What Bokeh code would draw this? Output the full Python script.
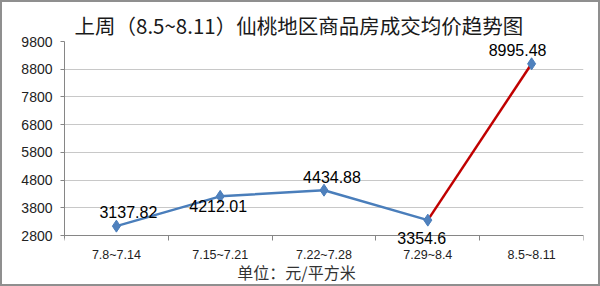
from bokeh.plotting import figure
from bokeh.models import (ColumnDataSource, FixedTicker, LabelSet, Label, Title, Range1d)
from bokeh.core.properties import value
from bokeh.embed import file_html
from bokeh.resources import INLINE

title_text = "上周（8.5~8.11）仙桃地区商品房成交均价趋势图"
unit_text = "单位：元/平方米"
categories = ["7.8~7.14", "7.15~7.21", "7.22~7.28", "7.29~8.4", "8.5~8.11"]
prices = [3137.82, 4212.01, 4434.88, 3354.6, 8995.48]
price_labels = ["3137.82", "4212.01", "4434.88", "3354.6", "8995.48"]
y_ticks = [2800, 3800, 4800, 5800, 6800, 7800, 8800, 9800]

# label offsets (styling, screen px)
label_dx = [12, -2, 8, -6, -14]
label_dy = [14, -10, 13, -18, 14]

xs = [i + 0.5 for i in range(len(categories))]

FONT = "Noto Sans CJK SC"
LATIN = "Liberation Sans"

# frame: top at 9800, extended below 2800 so that texts under the axis are not clipped
px_per_unit = 194.0 / (y_ticks[-1] - y_ticks[0])
extra_px = 51.0
y_start = y_ticks[0] - extra_px / px_per_unit

p = figure(width=600, height=286, output_backend="svg", toolbar_location=None,
           x_range=Range1d(0, len(categories)), y_range=Range1d(y_start, y_ticks[-1]),
           min_border_left=64, min_border_right=17, min_border_top=41, min_border_bottom=0)
p.styles = {"box-shadow": "inset 0 0 0 2px #8f8f8f", "background": "white"}
p.outline_line_color = None
p.background_fill_color = None
p.border_fill_color = None

t = Title(text=title_text, text_font=FONT, text_font_size="20.5px", text_font_style="normal",
          text_color="#1a1a1a", align="left", offset=10, standoff=3)
p.add_layout(t, "above")

# y axis
p.yaxis.ticker = FixedTicker(ticks=y_ticks)
p.yaxis.bounds = (y_ticks[0] - 120, y_ticks[-1])
p.yaxis.axis_line_color = "#868686"
p.yaxis.major_tick_line_color = "#868686"
p.yaxis.major_tick_out = 4
p.yaxis.major_tick_in = 0
p.yaxis.minor_tick_line_color = None
p.yaxis.major_label_text_font = LATIN
p.yaxis.major_label_text_font_size = "14px"
p.yaxis.major_label_text_color = "#222222"
p.yaxis.major_label_standoff = 8

# x axis, drawn at 2800
p.xaxis.fixed_location = y_ticks[0]
p.xaxis.ticker = FixedTicker(ticks=xs, minor_ticks=list(range(len(categories) + 1)))
p.xaxis.major_label_overrides = {x: c for x, c in zip(xs, categories)}
p.xaxis.axis_line_color = "#868686"
p.xaxis.major_tick_line_color = None
p.xaxis.major_tick_out = 0
p.xaxis.major_tick_in = 0
p.xaxis.minor_tick_line_color = "#868686"
p.xaxis.minor_tick_out = 5
p.xaxis.minor_tick_in = 0
p.xaxis.major_label_text_font = LATIN
p.xaxis.major_label_text_font_size = "12.5px"
p.xaxis.major_label_text_color = "#222222"
p.xaxis.major_label_standoff = 7

p.xgrid.grid_line_color = None
p.ygrid.grid_line_color = "#c8c8c8"
p.ygrid.grid_line_width = 1

src = ColumnDataSource(dict(x=xs, y=prices, lab=price_labels, dx=label_dx, dy=label_dy))

p.line(xs[:4], prices[:4], line_color="#4A7EBB", line_width=2.5)
p.line(xs[3:], prices[3:], line_color="#C00000", line_width=2.5)
p.scatter("x", "y", source=src, marker="diamond", size=12, fill_color="#4F81BD",
          line_color="#4A7EBB", line_width=1)

p.add_layout(LabelSet(x="x", y="y", text="lab", source=src, x_offset="dx", y_offset="dy",
                      text_align="center", text_baseline="middle", text_font=value(LATIN),
                      text_font_size="16px", text_color="#000000"))

p.add_layout(Label(x=2.235, y=15, y_units="screen", text=unit_text, text_font=FONT,
                   text_font_size="16px", text_color="#333333", text_align="center",
                   text_baseline="middle"))

open("out.html", "w").write(file_html(p, INLINE))
